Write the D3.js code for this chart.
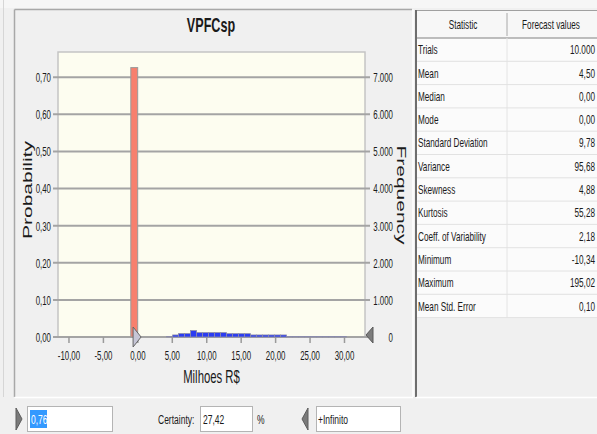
<!DOCTYPE html>
<html><head><meta charset="utf-8">
<script src="https://cdn.jsdelivr.net/npm/d3@7/dist/d3.min.js"></script>
<style>
html,body{margin:0;padding:0;background:#f0f0f0;overflow:hidden;}
svg{display:block;}
text{font-family:"Liberation Sans",Arial,sans-serif;fill:#1a1a1a;}
</style></head><body>
<script>
// ---------- data ----------
const title = "VPFCsp";
const xLabel = "Milhoes R$";
const yLabelLeft = "Probability";
const yLabelRight = "Frequency";
const xTicks = [-10, -5, 0, 5, 10, 15, 20, 25, 30];
const probTicks = [0, 0.1, 0.2, 0.3, 0.4, 0.5, 0.6, 0.7];
const freqTicks = [0, 1000, 2000, 3000, 4000, 5000, 6000, 7000];
const trials = 10000;
// red bin (outside certainty range)
const redBinEdges = [-0.95, 0.05];
const redBinProb = [0.726];
// blue bins
const blueEdges = [4.25, 5.12, 5.99, 6.86, 7.73, 8.60, 9.47, 10.34, 11.21, 12.08, 12.95,
  13.82, 14.69, 15.56, 16.43, 17.30, 18.17, 19.04, 19.91, 20.78, 21.65,
  22.52, 23.39, 24.26, 25.13, 26.00, 26.87, 27.74, 28.61, 29.48, 30.35];
const blueProbs = [0.0012, 0.0055, 0.0092, 0.0092, 0.0175, 0.0118, 0.0118, 0.0118, 0.0118, 0.0118,
  0.009, 0.009, 0.009, 0.009, 0.0055, 0.0055, 0.0055, 0.0055, 0.0055, 0.0055,
  0.0006, 0.0006, 0.0006, 0.0006, 0.0006, 0.0006, 0.0006, 0.0006, 0.0006, 0.0006];
const statHeaders = ["Statistic", "Forecast values"];
const statNames = ["Trials", "Mean", "Median", "Mode", "Standard Deviation", "Variance",
  "Skewness", "Kurtosis", "Coeff. of Variability", "Minimum", "Maximum", "Mean Std. Error"];
const statValues = ["10.000", "4,50", "0,00", "0,00", "9,78", "95,68", "4,88", "55,28",
  "2,18", "-10,34", "195,02", "0,10"];
const lowerValue = 0.76;
const lowerText = "0,76";
const certaintyLabel = "Certainty:";
const certaintyText = "27,42";
const upperText = "+Infinito";

// ---------- setup ----------
const W = 597, H = 434, SX = 0.63;
const svg = d3.select("body").append("svg").attr("width", W).attr("height", H);
svg.append("rect").attr("width", W).attr("height", H).attr("fill", "#f0f0f0");

function T(g, x, y, s, o = {}) {
  return g.append("text")
    .attr("transform", `translate(${x},${y}) scale(${SX},1)` + (o.rot ? ` rotate(${o.rot})` : ""))
    .attr("text-anchor", o.anchor || "start")
    .attr("dy", o.dy || "0.35em")
    .style("font-size", (o.size || 13) + "px")
    .style("font-weight", o.weight || "normal")
    .style("letter-spacing", o.ls || null)
    .style("fill", o.fill || "#1a1a1a")
    .text(s);
}

// outer decorations
svg.append("rect").attr("x", 0).attr("y", 0).attr("width", W).attr("height", 8).attr("fill", "#f6f6f6");
svg.append("line").attr("x1", 3.5).attr("x2", 3.5).attr("y1", 0).attr("y2", 397).attr("stroke", "#d6d6d6");

// left panel frame
const panel = svg.append("g");
panel.append("line").attr("x1", 14.5).attr("x2", 412).attr("y1", 9.5).attr("y2", 9.5).attr("stroke", "#a8a8a8").attr("stroke-width", 1.5);
panel.append("line").attr("x1", 14.5).attr("x2", 14.5).attr("y1", 9.5).attr("y2", 397).attr("stroke", "#a8a8a8").attr("stroke-width", 1.5);
panel.append("line").attr("x1", 14.5).attr("x2", 413).attr("y1", 397.5).attr("y2", 397.5).attr("stroke", "#ffffff").attr("stroke-width", 1.5);
panel.append("line").attr("x1", 413).attr("x2", 413).attr("y1", 9.5).attr("y2", 397).attr("stroke", "#ffffff").attr("stroke-width", 1.5);

// ---------- chart ----------
const plot = {left: 58, right: 365, top: 52, bottom: 337};
const x = d3.scaleLinear().domain([-11.52, 33.05]).range([plot.left, plot.right]);
const y = d3.scaleLinear().domain([0, 0.768]).range([plot.bottom, plot.top]);
const yF = d3.scaleLinear().domain([0, 0.768 * trials]).range([plot.bottom, plot.top]);

const chart = svg.append("g");
chart.append("rect").attr("x", plot.left).attr("y", plot.top)
  .attr("width", plot.right - plot.left).attr("height", plot.bottom - plot.top)
  .attr("fill", "#fdfdf0").attr("stroke", "#c4c4c4").attr("stroke-width", 1.5);

// gridlines
chart.append("g").selectAll("line").data(probTicks).join("line")
  .attr("x1", plot.left - 5).attr("x2", plot.right + 5)
  .attr("y1", d => y(d)).attr("y2", d => y(d))
  .attr("stroke", "#a4a4a4").attr("stroke-width", 2);

const fmt = d => d.toFixed(2).replace(".", ",");
const fmtF = d => d3.format(",")(d).replace(/,/g, ".");

function styleAxis(g) {
  g.select(".domain").remove();
  g.selectAll(".tick line").attr("stroke", "#9a9a9a").attr("stroke-width", 1.5);
}

// left axis
const gl = chart.append("g").attr("transform", `translate(${plot.left},0)`)
  .call(d3.axisLeft(y).tickValues(probTicks).tickFormat(fmt).tickSize(0));
styleAxis(gl);
gl.selectAll(".tick text").attr("x", null).attr("dy", "0.35em")
  .attr("transform", `translate(-7,0) scale(${SX},1)`)
  .attr("text-anchor", "end").style("font-size", "12.5px").style("font-family", "Liberation Sans, Arial, sans-serif").attr("fill", "#1a1a1a");

// right axis
const gr = chart.append("g").attr("transform", `translate(${plot.right},0)`)
  .call(d3.axisRight(yF).tickValues(freqTicks).tickFormat(fmtF).tickSize(0));
styleAxis(gr);
gr.selectAll(".tick text").attr("x", null).attr("dy", "0.35em")
  .attr("transform", `translate(28,0) scale(${SX},1)`)
  .attr("text-anchor", "end").style("font-size", "12.5px").style("font-family", "Liberation Sans, Arial, sans-serif").attr("fill", "#1a1a1a");

// bottom axis
const gb = chart.append("g").attr("transform", `translate(0,${plot.bottom})`)
  .call(d3.axisBottom(x).tickValues(xTicks).tickFormat(fmt).tickSize(6));
styleAxis(gb);
gb.selectAll(".tick text").attr("y", null).attr("dy", "0.35em")
  .attr("transform", `translate(0,19) scale(${SX},1)`)
  .attr("text-anchor", "middle").style("font-size", "12.5px").style("font-family", "Liberation Sans, Arial, sans-serif").attr("fill", "#1a1a1a");

// bars
chart.append("rect")
  .attr("x", x(redBinEdges[0])).attr("width", x(redBinEdges[1]) - x(redBinEdges[0]))
  .attr("y", y(redBinProb[0])).attr("height", y(0) - y(redBinProb[0]))
  .attr("fill", "#f7806e").attr("stroke", "#9a9a9a").attr("stroke-width", 1);

chart.append("g").selectAll("rect").data(blueProbs).join("rect")
  .attr("x", (d, i) => x(blueEdges[i]))
  .attr("width", (d, i) => x(blueEdges[i + 1]) - x(blueEdges[i]))
  .attr("y", d => y(d)).attr("height", d => y(0) - y(d))
  .attr("fill", "#2b3cf2").attr("stroke", "#8c8ca8").attr("stroke-width", 0.8);

// certainty grabbers
const tip = x(lowerValue) - 1.5;
chart.append("path")
  .attr("d", d3.line()([[tip - 8, plot.bottom - 10], [tip, plot.bottom], [tip - 8, plot.bottom + 10]]) + "Z")
  .attr("fill", "#c6c6d6").attr("stroke", "#666").attr("stroke-width", 1);
chart.append("path")
  .attr("d", d3.line()([[plot.right + 8, plot.bottom - 10], [plot.right + 1, plot.bottom - 2], [plot.right + 8, plot.bottom + 6]]) + "Z")
  .attr("fill", "#7c7c7c").attr("stroke", "#5a5a5a").attr("stroke-width", 1);

// titles
T(svg, 211, 25, title, {size: 20, weight: "bold", anchor: "middle"});
T(svg, 211.5, 377, xLabel, {size: 18, anchor: "middle"});
T(svg, 27, 190, yLabelLeft, {size: 21, anchor: "middle", rot: -90});
T(svg, 402, 195, yLabelRight, {size: 21, anchor: "middle", rot: 90});

// ---------- stats table ----------
const tbl = svg.append("g");
const tL = 416, tR = 597, tTop = 10, hB = 38, rowH = 23.3, colDiv = 507;
const tBottom = hB + rowH * statNames.length;
tbl.append("rect").attr("x", tL).attr("y", tTop).attr("width", tR - tL).attr("height", hB - tTop).attr("fill", "#f7f7f7");
tbl.append("rect").attr("x", tL).attr("y", hB).attr("width", tR - tL).attr("height", tBottom - hB).attr("fill", "#fbfbfb");
tbl.append("line").attr("x1", tL).attr("x2", tR).attr("y1", tTop + 0.5).attr("y2", tTop + 0.5).attr("stroke", "#a0a0a0");
tbl.append("line").attr("x1", tL).attr("x2", tR).attr("y1", hB).attr("y2", hB).attr("stroke", "#a8a8a8").attr("stroke-width", 1.5);
tbl.append("line").attr("x1", colDiv).attr("x2", colDiv).attr("y1", tTop + 3).attr("y2", hB - 2).attr("stroke", "#a8a8a8");
tbl.append("line").attr("x1", colDiv).attr("x2", colDiv).attr("y1", hB).attr("y2", tBottom).attr("stroke", "#e4e4e4");
tbl.append("g").selectAll("line").data(statNames).join("line")
  .attr("x1", tL).attr("x2", tR)
  .attr("y1", (d, i) => hB + rowH * (i + 1)).attr("y2", (d, i) => hB + rowH * (i + 1))
  .attr("stroke", "#e2e2e2");
tbl.append("line").attr("x1", tL).attr("x2", tL).attr("y1", tTop).attr("y2", 397).attr("stroke", "#6e6e6e").attr("stroke-width", 2);
tbl.append("line").attr("x1", tL).attr("x2", tR).attr("y1", 397.5).attr("y2", 397.5).attr("stroke", "#ffffff").attr("stroke-width", 1.5);
T(tbl, 463, 24, statHeaders[0], {size: 13, anchor: "middle"});
T(tbl, 551, 24, statHeaders[1], {size: 13, anchor: "middle"});
statNames.forEach((n, i) => {
  T(tbl, 418, hB + rowH * (i + 0.5), n, {size: 13});
  T(tbl, 595, hB + rowH * (i + 0.5), statValues[i], {size: 13, anchor: "end"});
});

// ---------- bottom controls ----------
const bc = svg.append("g");
function box(x0, x1) {
  bc.append("rect").attr("x", x0 + 0.5).attr("y", 406.5).attr("width", x1 - x0).attr("height", 25)
    .attr("fill", "#ffffff").attr("stroke", "#b4b4b4");
}
bc.append("path").attr("d", d3.line()([[16, 408], [22, 419], [16, 430]]) + "Z").attr("fill", "#7a7a7a").attr("stroke", "#5c5c5c");
box(27, 112);
bc.append("rect").attr("x", 30).attr("y", 410).attr("width", 17).attr("height", 18).attr("fill", "#3399ff");
T(bc, 31, 419, lowerText, {size: 13.5, fill: "#ffffff"});
T(bc, 158, 419, certaintyLabel, {size: 13.5});
box(200, 252);
T(bc, 203, 419, certaintyText, {size: 13.5});
T(bc, 257, 419, "%", {size: 13.5});
bc.append("path").attr("d", d3.line()([[308, 408], [302, 419], [308, 430]]) + "Z").attr("fill", "#7a7a7a").attr("stroke", "#5c5c5c");
box(316, 400);
T(bc, 318, 419, upperText, {size: 13.5});
</script>
</body></html>
